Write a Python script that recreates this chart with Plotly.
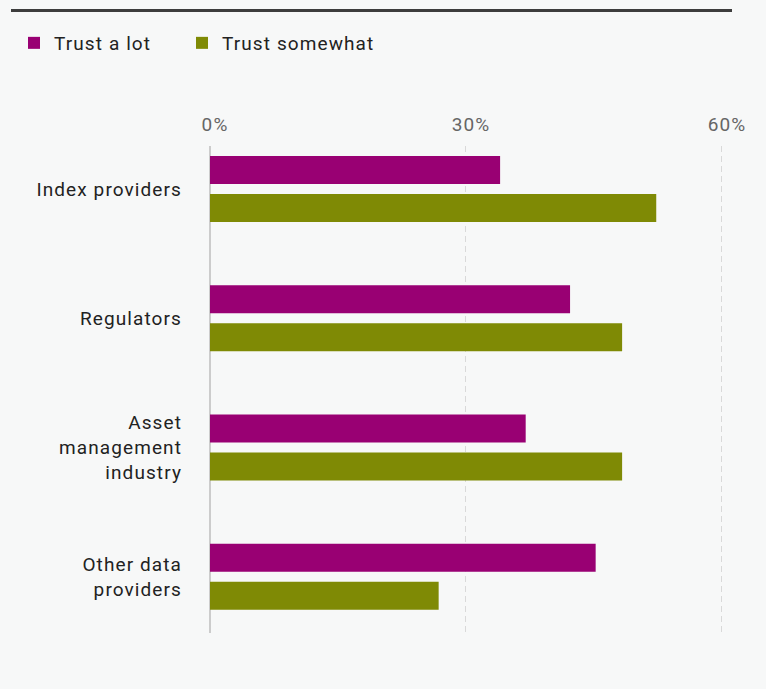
import plotly.graph_objects as go

# Survey data: share of respondents by level of trust
categories = ["Index providers", "Regulators", "Asset<br>management<br>industry", "Other data<br>providers"]
trust_a_lot = [34.0, 42.2, 37.0, 45.2]
trust_somewhat = [52.3, 48.3, 48.3, 26.8]
tick_values = [0, 30, 60]
tick_labels = ["0%", "30%", "60%"]

W, H = 766, 689
BG = "#f7f8f8"
PURPLE = "#990073"
OLIVE = "#7f8a05"
FONT_SIZE = 19

# plot-area geometry (pixels)
left, right, top, bottom = 210, 27, 146, 56
x_max = 62
plot_w = W - left - right
plot_h = H - top - bottom

fig = go.Figure()
fig.add_trace(go.Bar(
    y=categories, x=trust_a_lot, name="Trust a lot", orientation="h",
    marker=dict(color=PURPLE, line=dict(width=0)),
    hovertemplate="%{x}%<extra>Trust a lot</extra>",
))
fig.add_trace(go.Bar(
    y=categories, x=trust_somewhat, name="Trust somewhat", orientation="h",
    marker=dict(color=OLIVE, line=dict(width=0)),
    hovertemplate="%{x}%<extra>Trust somewhat</extra>",
))

# horizontal rule above the legend, in paper units of the plot area
def px_to_paper_x(px):
    return (px - left) / plot_w

def px_to_paper_y(py):
    return (H - bottom - py) / plot_h

fig.add_shape(
    type="line", xref="paper", yref="paper",
    x0=px_to_paper_x(11), x1=px_to_paper_x(732),
    y0=px_to_paper_y(10.5), y1=px_to_paper_y(10.5),
    line=dict(color="#3d3d3d", width=3),
)

fig.update_layout(
    width=W, height=H,
    paper_bgcolor=BG, plot_bgcolor=BG,
    margin=dict(l=left, r=right, t=top, b=bottom, pad=0),
    font=dict(family="Roboto, sans-serif", size=FONT_SIZE, color="#222222"),
    barmode="group", bargap=0.412, bargroupgap=0.263,
    showlegend=True,
    legend=dict(
        orientation="h", xref="container", yref="container",
        x=14 / W, xanchor="left", y=1 - 24 / H, yanchor="top",
        bgcolor="rgba(0,0,0,0)", borderwidth=0,
        font=dict(size=FONT_SIZE, color="#222222"),
        entrywidth=123, entrywidthmode="pixels",
        traceorder="normal",
    ),
    xaxis=dict(
        side="top", range=[0, x_max], tickvals=tick_values, ticktext=tick_labels,
        showgrid=True, gridcolor="#d9d9d9", gridwidth=1, griddash="6px,4px",
        zeroline=True, zerolinecolor="#cccccc", zerolinewidth=2,
        showline=False, ticks="",
        tickfont=dict(size=FONT_SIZE, color="#666666"),
        ticklabelshift=5, ticklabelstandoff=10,
        fixedrange=True,
    ),
    yaxis=dict(
        type="category", autorange=False, range=[3.436, -0.332],
        showgrid=False, zeroline=False, showline=False, ticks="",
        tickfont=dict(size=FONT_SIZE, color="#222222"),
        ticklabelstandoff=27,
        fixedrange=True,
    ),
)

# slightly open letter spacing for all chart text; the legend box is not
# clipped so the wider entries stay fully visible
style_js = (
    "var s = document.createElement('style');"
    "s.textContent = '.js-plotly-plot .main-svg text { letter-spacing: 1.1px; }"
    " .js-plotly-plot .legend .scrollbox { clip-path: none !important; }';"
    "document.head.appendChild(s);"
)

fig.write_html("out.html", post_script=style_js)
